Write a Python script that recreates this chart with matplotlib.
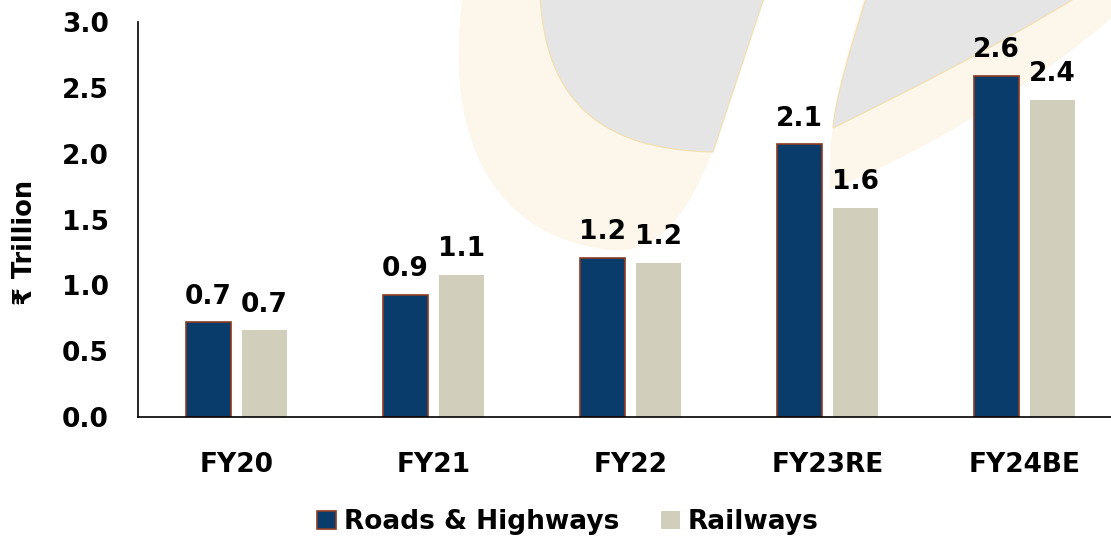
import matplotlib.pyplot as plt
from matplotlib.path import Path
from matplotlib.patches import PathPatch
import numpy as np

# data
years = ['FY20', 'FY21', 'FY22', 'FY23RE', 'FY24BE']
roads = [0.72, 0.93, 1.21, 2.07, 2.59]
railways = [0.66, 1.08, 1.17, 1.59, 2.41]
roads_labels = ['0.7', '0.9', '1.2', '2.1', '2.6']
rail_labels = ['0.7', '1.1', '1.2', '1.6', '2.4']

navy = '#0A3C6B'
edge = '#8E3B22'
beige = '#D1CEBB'

plt.rcParams['font.family'] = ['DejaVu Sans']
plt.rcParams['font.weight'] = 'bold'

W, H = 1111, 540
fig = plt.figure(figsize=(W / 100, H / 100), dpi=100)


def px(pts):
    # pixel coords (y down) -> figure fraction
    return [(x / W, 1 - y / H) for x, y in pts]


def logo_piece(verts, codes, color, ec='none'):
    p = PathPatch(Path(px(verts), codes), transform=fig.transFigure,
                  facecolor=color, edgecolor=ec, lw=0.8, zorder=-1)
    fig.patches.append(p)


M, C, L, Z = Path.MOVETO, Path.CURVE4, Path.LINETO, Path.CLOSEPOLY
# faint background logo
logo_piece([(463, -5), (445, 120), (480, 235), (610, 250),
            (660, 255), (690, 210), (713, 150), (765, -5), (463, -5)],
           [M, C, C, C, C, C, C, L, Z], '#FCF7EA')
logo_piece([(540, -5), (545, 100), (600, 150), (713, 152), (765, -5), (540, -5)],
           [M, C, C, C, L, Z], '#E5E5E5', '#F3DFAE')
logo_piece([(865, -5), (845, 60), (828, 110), (830, 190),
            (930, 150), (1040, 80), (1115, 15), (1115, -5), (865, -5)],
           [M, C, C, C, C, C, C, L, Z], '#FCF7EA')
logo_piece([(867, -5), (850, 50), (835, 100), (833, 128),
            (900, 95), (1000, 45), (1080, -5), (867, -5)],
           [M, C, C, C, C, C, C, Z], '#E5E5E5', '#F3DFAE')

ax = fig.add_axes([138 / W, 1 - 417 / H, 985 / W, 395 / H])
ax.set_facecolor('none')

x = np.arange(len(years))
bw = 0.228
off = 0.142
b1 = ax.bar(x - off, roads, bw, color=navy, edgecolor=edge, linewidth=1.2,
            label='Roads & Highways')
b2 = ax.bar(x + off, railways, bw, color=beige, label='Railways')

for bars, labs in ((b1, roads_labels), (b2, rail_labels)):
    for rect, t in zip(bars, labs):
        ax.annotate(t, (rect.get_x() + rect.get_width() / 2, rect.get_height()),
                    xytext=(0, 9), textcoords='offset points', ha='center',
                    va='bottom', fontsize=19, fontweight='bold')

ax.set_xlim(-0.5, 4.5)
ax.set_ylim(0, 3.0)
ax.set_yticks(np.arange(0, 3.01, 0.5))
ax.set_yticklabels([f'{v:.1f}' for v in np.arange(0, 3.01, 0.5)])
ax.set_xticks(x)
ax.set_xticklabels(years)
ax.tick_params(axis='y', length=0, pad=21, labelsize=19)
ax.tick_params(axis='x', length=0, pad=25, labelsize=19)
for s in ('top', 'right'):
    ax.spines[s].set_visible(False)
for s in ('left', 'bottom'):
    ax.spines[s].set_linewidth(1.2)
    ax.spines[s].set_color('black')

fig.text(25 / W, 1 - 242 / H, '₹ Trillion', rotation=90, ha='center',
         va='center', fontsize=18.5, fontweight='bold')

fig.legend(handles=[b1, b2], loc='center', bbox_to_anchor=(568 / W, 1 - 522 / H),
           ncol=2, frameon=False, fontsize=19, handlelength=0.7, handleheight=0.7,
           handletextpad=0.3, columnspacing=1.6)

fig.savefig('out.png', dpi=100)
